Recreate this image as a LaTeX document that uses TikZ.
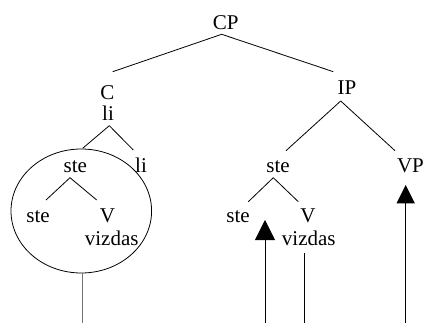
\documentclass[tikz,border=0pt]{standalone}
\usepackage{fontspec}
\setmainfont{Liberation Serif}
\usetikzlibrary{arrows.meta,calc,shapes.geometric}
\begin{document}
\begin{tikzpicture}[x=1bp,y=1bp,
  lbl/.style={inner sep=0pt,anchor=base,font=\fontsize{21bp}{25bp}\selectfont},
  br/.style={draw=black,line width=0.8bp},
  up/.style={draw=black,line width=0.8bp,-{Triangle[length=20bp,width=20bp]}}]
\useasboundingbox (0,0) rectangle (423,323);
% labels
\node[lbl] (CP) at (225.8,294) {CP};
\node[lbl] (C) at (107.5,224) {C};
\node[lbl] (liC) at (108,203) {li};
\node[lbl] (IP) at (347,229) {IP};
\node[lbl] (steA) at (75.3,151) {ste};
\node[lbl] (liB) at (141,151) {li};
\node[lbl] (steB) at (38,101) {ste};
\node[lbl] (VA) at (107.5,101) {V};
\node[lbl] (vizA) at (111.7,78) {vizdas};
\node[lbl] (steC) at (278,151) {ste};
\node[lbl] (steD) at (238,101) {ste};
\node[lbl] (VB) at (308,101) {V};
\node[lbl] (vizB) at (308.8,78) {vizdas};
\node[lbl] (VP) at (410.5,151) {VP};
% ellipse
\node[ellipse,draw=black,line width=0.8bp,minimum width=140.6bp,minimum height=124bp,inner sep=0pt] (circ) at (81.3,112) {};
% branches
\draw[br] ($(CP.base)+(-4.1,-5.3)$) -- ($(C.base)+(5.2,27.3)$);
\draw[br] ($(CP.base)+(-4.1,-5.3)$) -- ($(IP.base)+(-13.7,22.3)$);
\draw[br] ($(IP.base)+(-6.3,-7)$) -- ($(steC.base)+(8,21.3)$);
\draw[br] ($(IP.base)+(-6.3,-7)$) -- ($(VP.base)+(-15.5,21.3)$);
\draw[br] ($(liC.base)+(1.3,-5.7)$) -- ($(steA.base)+(7.4,23.7)$);
\draw[br] ($(liC.base)+(1.3,-5.7)$) -- ($(liB.base)+(-7.7,22)$);
\draw[br] ($(steA.base)+(-5.3,-5.7)$) -- ($(steB.base)+(8,22)$);
\draw[br] ($(steA.base)+(-5.3,-5.7)$) -- ($(VA.base)+(-10.8,22)$);
\draw[br] ($(steC.base)+(-4.7,-5.7)$) -- ($(steD.base)+(10.3,20.3)$);
\draw[br] ($(steC.base)+(-4.7,-5.7)$) -- ($(VB.base)+(-9.7,20.3)$);
% vertical lines
\coordinate (b1) at (82.5,0);
\coordinate (b2) at (265,0);
\coordinate (t2) at (265,103);
\coordinate (b3) at (304,0);
\coordinate (b4) at (405.7,0);
\coordinate (t4) at (405.7,138);
\draw[draw=black!55,line width=1bp] (circ.south -| b1) -- (b1);
\draw[up] (b2) -- (t2);
\draw[br] ($(vizB.base)+(-4.8,-8.3)$) -- (b3);
\draw[up,-{Triangle[length=18.3bp,width=18bp]}] (b4) -- (t4);
\end{tikzpicture}
\end{document}
